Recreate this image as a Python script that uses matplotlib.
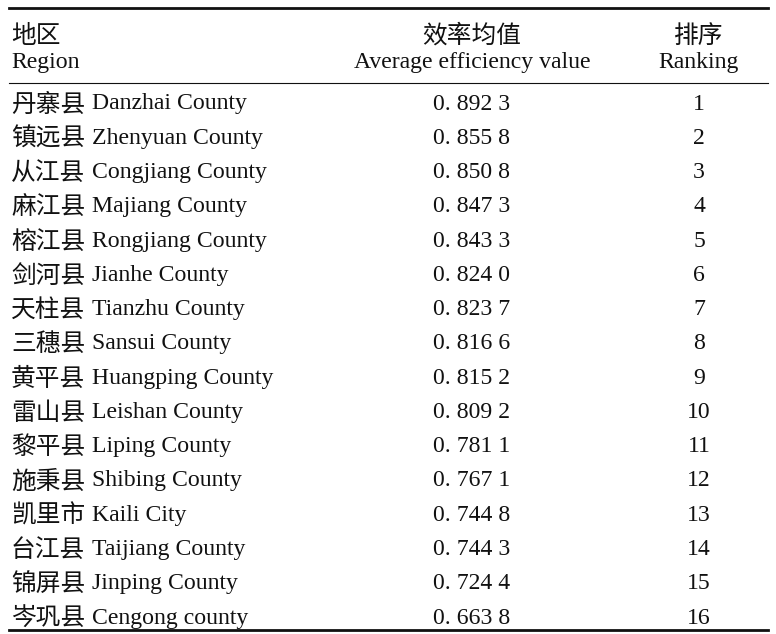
import matplotlib
matplotlib.use("Agg")
import matplotlib.pyplot as plt
from matplotlib.lines import Line2D

regions_cn = ["丹寨县", "镇远县", "从江县", "麻江县", "榕江县", "剑河县", "天柱县", "三穗县",
              "黄平县", "雷山县", "黎平县", "施秉县", "凯里市", "台江县", "锦屏县", "岑巩县"]
regions_en = ["Danzhai County", "Zhenyuan County", "Congjiang County", "Majiang County",
              "Rongjiang County", "Jianhe County", "Tianzhu County", "Sansui County",
              "Huangping County", "Leishan County", "Liping County", "Shibing County",
              "Kaili City", "Taijiang County", "Jinping County", "Cengong county"]
efficiency = [0.8923, 0.8558, 0.8508, 0.8473, 0.8433, 0.8240, 0.8237, 0.8166,
              0.8152, 0.8092, 0.7811, 0.7671, 0.7448, 0.7443, 0.7244, 0.6638]
ranking = list(range(1, 17))
headers_cn = ["地区", "效率均值", "排序"]
headers_en = ["Region", "Average efficiency value", "Ranking"]

W, H = 776, 634
fig = plt.figure(figsize=(W / 100, H / 100), dpi=100)
fig.patch.set_facecolor("white")
FAM_EN = ["Liberation Serif", "Noto Sans CJK SC"]
FAM_CN = ["Noto Sans CJK SC", "Liberation Serif"]
FS_EN = 17.1
FS_CN = 17.8
COL = "#111111"

def fx(x):
    return x / W

def fy(y):
    return 1 - y / H

def fmt(v):
    s = f"{v:.4f}"
    return f"{s[:2]} {s[2:5]} {s[5]}"

col_x = [11, 472, 699]
aligns = ["left", "center", "center"]

# header
for j in range(3):
    fig.text(fx(col_x[j]), fy(43), headers_cn[j], ha=aligns[j], va="baseline",
             fontsize=FS_CN, family=FAM_CN, color=COL)
    fig.text(fx(col_x[j]), fy(68), headers_en[j], ha=aligns[j], va="baseline",
             fontsize=FS_EN, family=FAM_EN, color=COL)

# rows
y0, dy = 109.5, 34.27
for i in range(len(regions_cn)):
    yb = y0 + i * dy
    fig.text(fx(col_x[0]), fy(yb + 2), regions_cn[i], ha="left",
             va="baseline", fontsize=FS_CN, family=FAM_CN, color=COL)
    fig.text(fx(92), fy(yb), regions_en[i], ha="left",
             va="baseline", fontsize=FS_EN, family=FAM_EN, color=COL)
    fig.text(fx(col_x[1]), fy(yb), fmt(efficiency[i]), ha="center",
             va="baseline", fontsize=FS_EN, family=FAM_EN, color=COL)
    fig.text(fx(col_x[2]), fy(yb), str(ranking[i]), ha="center",
             va="baseline", fontsize=FS_EN, family=FAM_EN, color=COL)

# rules
for y, lw in [(8, 2.0), (83, 0.8), (630, 2.0)]:
    fig.add_artist(Line2D([fx(9), fx(768)], [fy(y), fy(y)], color=COL, lw=lw,
                          transform=fig.transFigure))

fig.savefig("out.png", dpi=100, facecolor="white")
